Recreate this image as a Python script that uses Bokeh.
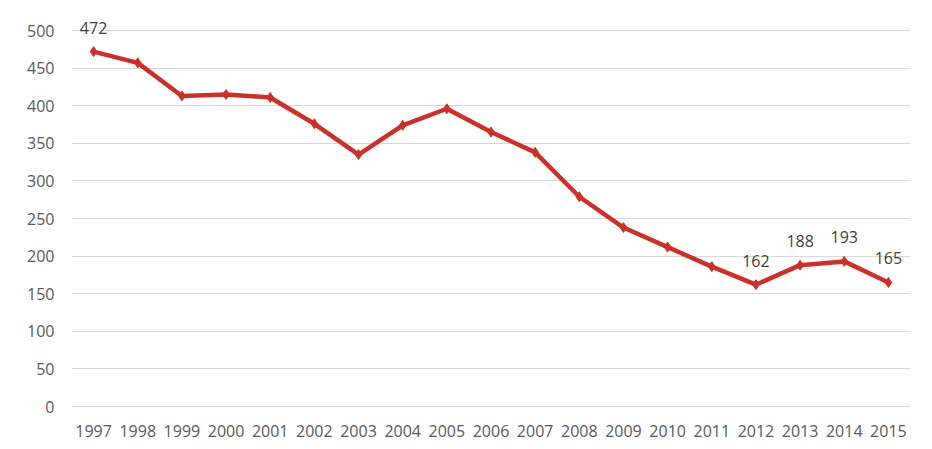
from bokeh.plotting import figure
from bokeh.models import ColumnDataSource, FactorRange, Range1d, FixedTicker
from bokeh.core.properties import value
from bokeh.embed import file_html
from bokeh.resources import INLINE

years = [str(y) for y in range(1997, 2016)]
values = [472, 457, 413, 415, 411, 376, 335, 374, 396, 365, 338, 279, 238, 212, 186, 162, 188, 193, 165]
label_years = ["1997", "2012", "2013", "2014", "2015"]
y_ticks = [0, 50, 100, 150, 200, 250, 300, 350, 400, 450, 500]

RED = "#C9322A"
FONT = "Open Sans"

src = ColumnDataSource(dict(x=years, y=values))
lab_vals = [values[years.index(y)] for y in label_years]
lab_src = ColumnDataSource(dict(x=label_years, y=lab_vals, t=[str(v) for v in lab_vals]))

p = figure(width=924, height=441, output_backend="svg", toolbar_location=None,
           x_range=FactorRange(*years, range_padding=0), y_range=Range1d(-5.3, 520),
           min_border_left=71, min_border_right=14, min_border_top=15, min_border_bottom=31)
p.outline_line_color = None
p.background_fill_color = "white"
p.border_fill_color = "white"

p.xgrid.grid_line_color = None
p.ygrid.grid_line_color = "#d9d9d9"
p.ygrid.grid_line_width = 1
p.yaxis.ticker = FixedTicker(ticks=y_ticks)

for ax in (p.xaxis, p.yaxis):
    ax.axis_line_color = None
    ax.major_tick_line_color = None
    ax.minor_tick_line_color = None
    ax.major_label_text_font = FONT
    ax.major_label_text_font_size = "16px"
    ax.major_label_text_color = "#595959"
p.yaxis.major_label_standoff = 11
p.xaxis.major_label_standoff = 8

p.line("x", "y", source=src, line_color=RED, line_width=4.5)
p.scatter("x", "y", source=src, marker="diamond", size=10, fill_color=RED, line_color=RED)

p.text("x", "y", text="t", source=lab_src, text_align="center", text_baseline="middle",
       y_offset=-24, text_font=value(FONT), text_font_size="16px", text_color="#404040")

open("out.html", "w").write(file_html(p, INLINE))
